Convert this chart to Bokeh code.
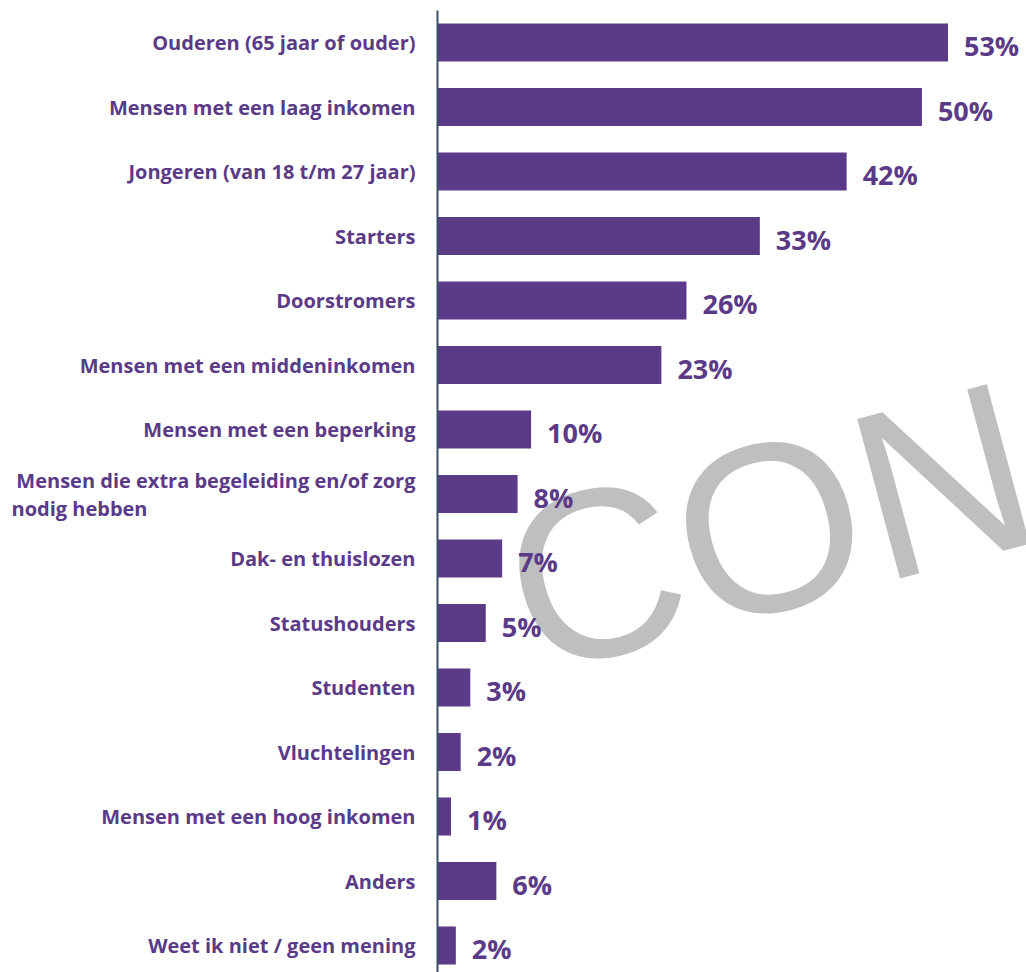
from bokeh.plotting import figure
from bokeh.models import Range1d, ColumnDataSource
from bokeh.core.properties import value
from bokeh.embed import file_html
from bokeh.resources import INLINE

categories = [
    "Ouderen (65 jaar of ouder)",
    "Mensen met een laag inkomen",
    "Jongeren (van 18 t/m 27 jaar)",
    "Starters",
    "Doorstromers",
    "Mensen met een middeninkomen",
    "Mensen met een beperking",
    "Mensen die extra begeleiding en/of zorg\nnodig hebben",
    "Dak- en thuislozen",
    "Statushouders",
    "Studenten",
    "Vluchtelingen",
    "Mensen met een hoog inkomen",
    "Anders",
    "Weet ik niet / geen mening",
]
bar_values = [52.9, 50.2, 42.4, 33.4, 25.8, 23.2, 9.7, 8.3, 6.7, 5.0, 3.4, 2.4, 1.4, 6.1, 1.9]
value_labels = ["53%", "50%", "42%", "33%", "26%", "23%", "10%", "8%", "7%", "5%", "3%", "2%", "1%", "6%", "2%"]
watermark = "CON"

PURPLE = "#5B3A87"
FONT = "Open Sans"

W, H = 1026, 972
PX_PER_UNIT = 9.65
AXIS_PX = 437
ROW_PX = 64.5
TOP_PX = 42
AXIS_TOP_PX = 10

x_start = -AXIS_PX / PX_PER_UNIT
x_end = x_start + W / PX_PER_UNIT
y_end = -TOP_PX / ROW_PX
y_start = y_end + H / ROW_PX

rows = list(range(len(categories)))

p = figure(width=W, height=H, x_range=Range1d(x_start, x_end), y_range=Range1d(y_start, y_end),
           output_backend="svg", toolbar_location=None, x_axis_location=None,
           y_axis_location=None, min_border=0)
p.grid.visible = False
p.outline_line_color = None
p.background_fill_color = "white"
p.border_fill_color = "white"

# watermark
p.text(x=[7.7], y=[8.59], text=[watermark], angle=0.262, text_font=value("Liberation Sans"),
       text_font_size="240px", text_color="#BFBFBF", text_align="left",
       text_baseline="alphabetic")

src = ColumnDataSource(dict(y=rows, v=bar_values, lab=value_labels))
p.hbar(y="y", left=0, right="v", height=0.59, source=src, fill_color=PURPLE, line_color=None)

p.text(x="v", y="y", text="lab", source=src, x_offset=16, y_offset=3,
       text_font=value(FONT), text_font_style="bold", text_font_size="27px",
       text_color=PURPLE, text_align="left", text_baseline="middle")

# category labels
single_y, single_t = [], []
first_y, first_t, second_y, second_t = [], [], [], []
for r, c in zip(rows, categories):
    if "\n" in c:
        a, b = c.split("\n", 1)
        first_y.append(r); first_t.append(a)
        second_y.append(r); second_t.append(b)
    else:
        single_y.append(r); single_t.append(c)

common = dict(text_font=value(FONT), text_font_style="bold", text_font_size="20px",
              text_color=PURPLE, text_baseline="middle")
p.text(x=[0] * len(single_y), y=single_y, text=single_t, x_offset=-22, y_offset=0,
       text_align="right", **common)
p.text(x=[0] * len(first_y), y=first_y, text=first_t, x_offset=-22, y_offset=-14,
       text_align="right", **common)
p.text(x=[0] * len(second_y), y=second_y, text=second_t, x_offset=-426, y_offset=14,
       text_align="left", **common)

# category axis line
p.segment(x0=[0], y0=[y_end + AXIS_TOP_PX / ROW_PX], x1=[0], y1=[y_start],
          line_color="#3B4F68", line_width=2)

open("out.html", "w").write(file_html(p, INLINE))
